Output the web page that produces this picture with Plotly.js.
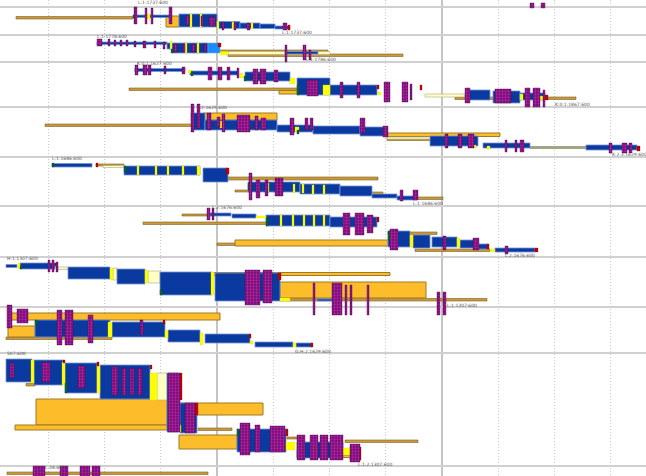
<!DOCTYPE html>
<html><head><meta charset="utf-8">
<script src="https://cdn.plot.ly/plotly-3.0.1.min.js"></script>
<style>html,body{margin:0;padding:0;background:#fff}#chart{width:646px;height:476px}</style>
</head><body><div id="chart"></div>
<script>
// Each record: [start, end, laneTop, laneBottom]
const laneBorders = [7, 35, 62, 107, 157, 206, 257, 307, 353, 466];

const tanSpans = [
  [16,133,16.5,19],
  [220,328,50,52.5],[228,403,54,56.5],
  [129,297,88,90.5],[455,576,97,99.5],
  [45,200,124,126.5],[387,460,138.5,140.5],
  [96,124,164,166],[227,378,177,180],[235,250,190,192],[360,383,192,194.5],[415,443,197,199.5],
  [182,210,214,216],[143,266,222,224.5],[217,235,243,245.5],[388,437,232,234.5],[415,490,249,251.5],
  [280,487,298.5,301],
  [6,112,337,339.5],
  [26,35,383.5,386],[198,232,428,430.5],[287,300,437,439],[345,418,440,442.5],
  [7,208,472,474.5]
];
const greySpans = [[530,586,146.5,148.5]];
const orangeSpans = [
  [166,179,16,27],
  [279,297,90.5,94],
  [203,277,113,120],[387,500,133,136.5],
  [235,388,240,246],
  [213,390,272.5,275.5],[280,426,282,298],
  [8,220,313,320],[8,35,326,337],
  [36,167,399,425],[15,167,425,430],[180,263,403,415],[179,237,435,449],[313,351,455,457.5]
];
const paleSpans = [
  [228,330,51.5,54.5],
  [425,465,94,97],
  [387,455,137,139],
  [103,124,165.5,167.5],
  [58,68,267,269.5],[113,117,268,280],[148,160,271,283],
  [157,167,373,400]
];
const blueSpans = [
  [133,170,15,17.5],[179,217,14,27],[217,240,21.5,28.5],[240,260,23,28.5],[260,275,24,28.5],[275,290,26,29],
  [97,167,42,44.5],[167,172,43,49],[172,208,43,53],[285,318,51.5,54],
  [135,183,68.5,71.5],[190,238,71,75],[245,290,72,81],[297,330,78,95],[330,377,85,95],[466,490,90,100],[493,520,91,103],[520,545,93,100],
  [192,205,113,130],[205,277,120,130],[277,313,125,132],[313,360,126,134],[360,385,127,136],[430,478,136,146],[483,530,143,148],[586,637,145,150],
  [52,92,163.5,167],[124,200,166,175],[203,228,168,182],[248,300,182,192],[300,340,184,194],[340,372,186,196],[372,397,194,198],[397,415,196,200],
  [210,231,213,216],[232,256,214,218],[266,330,215,226],[330,377,217,227],[388,410,231,247],[413,430,235,248],[432,457,237,247],[460,475,240,248],[475,488,244,249],[495,535,248,252],
  [6,17,264.5,267.5],[20,55,263,269],[68,110,267,279],[117,145,269,284],[160,212,272,295],[215,280,273,301],[317,337,299,301],
  [35,110,320,337],[112,165,322,337],[168,200,330,342],[205,250,334,343],[255,293,342,347],[296,312,343,347],
  [6,32,359,382],[34,63,360,385],[65,97,363,393],[100,150,365,399],[167,178,373,432],[180,197,403,433],[237,286,429,452],[297,343,442,458],[350,357,447,460]
];
const skySpans = [[208,220,43,53]];
const yellowSpans = [
  [147,150,14,19],[190,192,14,27],[200,202,14,27],[217,219,21,29],[232,234,22,29],[251,253,23,29],
  [170,172,41,49],[185,187,43,53],[197,199,43,53],[220,228,51.5,55],
  [188,191,70,73],[240,243,73,78],[290,295,78,84],[323,330,85,95],[378,381,92,95],[520,523,94,100],[540,543,96,100],
  [220,223,121,128],[295,299,127,132],[384,387,130,137],[473,476,145,148],[487,490,146,149],
  [137,139,166,175],[155,157,166,175],[167,169,166,175],[182,184,166,175],[197,200,166,175],[267,269,183,192],[280,282,183,192],[293,295,184,193],[302,304,184,193],[312,314,185,194],[323,325,185,194],
  [256,266,216,218],[280,282,215,226],[292,294,215,226],[303,305,215,226],[313,315,215,226],[323,325,215,226],[410,413,235,247],[457,460,238,247],[490,495,249,251.5],
  [18,20,263,269],[110,113,268,280],[145,148,270,283],[211,214,272,295],[280,290,298,301],
  [108,112,322,337],[165,168,330,338],[200,203,333,345],[250,253,341,344],[293,296,343,347],
  [31,34,360,383],[62,65,362,385],[97,100,365,393],[150,157,373,400],[286,295,442,450],[343,350,448,455],[178,181,425,432]
];
const redSpans = [
  [288,290,25,30],[218,221,43,47],
  [183,185,68,72],[377,379,85,89],[420,422,85,90],[545,548,95,100],
  [385,387,127,132],[637,640,146,151],
  [96,98,163,167],[226,229,168,174],[415,417,196,200],
  [377,379,217,222],[487,489,244,249],[535,538,248,252],
  [55,57,263,266],[278,281,273,280],
  [163,165,320,324],[249,251,334,338],[311,313,343,347],
  [63,65,360,363],[97,99,362,366],[150,152,365,369],[178,182,373,400],[195,198,403,415],[286,288,429,436],[358,361,447,460]
];
const greenSpans = [
  [133,135,15,18],[171,173,49,53],
  [135,137,68,72],[191,193,72,76],[244,246,76,81],[297,299,85,95],
  [191,193,113,122],[297,299,130,134],
  [52,54,163,167],[124,126,166,172],[248,250,183,190],
  [266,268,218,226],[388,390,231,240],
  [160,162,290,295],[20,22,266,269],
  [35,37,320,325],
  [65,67,383,393],[237,239,429,436],[297,299,451,458]
];
const markSpans = [
  [134,137,7,24],[145,147,8,24],[151,153,8,24],[169,172,7,24],[186,189,16,25],[201,203,16,26],[209,215,17,26],[222,224,22,30],[234,236,22,30],[247,250,23,30],[283,287,23,30],
  [97,102,39,46],[108,110,39,46],[114,116,40,46],[120,122,40,46],[126,128,40,46],[134,136,41,47],[143,146,41,48],[154,156,41,48],[163,165,42,49],[174,177,44,52],[183,185,44,52],[192,195,44,52],[204,206,44,52],[285,287,45,62],[303,306,45,60],[309,311,50,60],
  [135,138,65,75],[143,147,65,75],[148,151,65,75],[164,166,66,74],[182,185,67,74],[208,212,67,80],[218,222,67,80],[227,230,67,80],[237,239,68,78],[253,258,69,84],[260,266,69,84],[274,278,70,82],[307,318,80,96],[340,343,82,98],[357,360,82,98],[384,390,82,102],[402,408,82,102],[410,412,84,100],[465,470,88,103],[495,511,89,103],[525,530,88,107],[533,540,88,107],[543,545,90,107],
  [191,194,104,132],[197,200,104,128],[207,211,113,130],[217,220,117,127],[222,225,114,132],[237,250,115,132],[255,258,116,130],[261,266,118,130],[290,294,118,135],[305,308,118,130],[310,313,118,130],[360,365,118,133],[383,388,126,137],[445,448,134,148],[458,462,134,148],[468,474,134,148],[505,507,140,152],[515,517,140,152],[520,524,140,152],[609,612,143,153],[622,627,143,153],[629,632,143,153],
  [249,252,173,200],[256,260,180,198],[265,268,180,196],[275,279,178,196],[279,283,178,196],[400,403,190,201],[413,418,190,200],
  [207,210,208,220],[212,214,208,220],[343,350,213,235],[355,364,213,235],[367,373,215,233],[390,398,229,250],[443,446,236,250],[473,479,238,250],[505,508,246,254],
  [48,50,260,272],[52,54,260,272],[56,58,262,272],[245,260,270,305],[263,272,270,303],[313,315,283,315],[332,342,283,315],[345,347,285,315],[350,352,285,315],[367,369,285,315],[437,440,292,315],[443,446,292,315],
  [7,12,305,328],[17,28,309,323],[57,62,310,345],[65,73,310,345],[88,93,315,343],[140,143,320,335],
  [10,14,363,378],[42,50,362,382],[78,85,366,388],[112,118,367,395],[122,126,368,395],[130,134,368,395],[138,142,368,395],[168,180,373,432],[185,195,403,433],[240,250,423,455],[255,260,425,452],[270,285,426,452],[297,305,435,460],[310,318,435,460],[320,328,435,460],[330,343,435,460],[350,360,444,462],
  [33,45,466,476],[60,68,466,476],[80,90,466,476],[92,100,466,476],
  [530,534,3,8],[541,545,3,8]
];
const labelText = ["L:1:1737:600","L:1:1737:600","L:1:1778:600","L:1:1786:600","K:0:1:1627:600","K:0:1:1867:600",
  "L:2:1629:600","K:2:3:1629:600","L:1:1686:600","L:1:1686:600","L:2:1676:600","L:2:1676:600",
  "H:1:1307:600","L:1:1307:600","G:H:2:1629:600","507:600","L:1:2:1307:600","L:38:600"];
const labelX = [138,282,97,306,137,555,197,612,52,413,212,505,7,447,295,7,358,45];
const labelY = [3,33,37,60,64,105,108,155,159,204,208,256,259,306,352,354,465,468];

function spans(list, fill, edge, lw, extra) {
  const t = {
    type: 'bar', orientation: 'h',
    base: list.map(r => r[0]),
    x: list.map(r => r[1] - r[0]),
    y: list.map(r => (r[2] + r[3]) / 2),
    width: list.map(r => r[3] - r[2]),
    marker: { color: fill, line: { color: edge, width: lw } },
    hoverinfo: 'skip', showlegend: false
  };
  if (extra) Object.assign(t.marker, extra);
  return t;
}

const data = [
  spans(tanSpans, '#c99a3c', '#7d5e22', 0.6),
  spans(greySpans, '#a4a27e', '#77765a', 0.5),
  spans(orangeSpans, '#fdbd2a', '#9c7a26', 1),
  spans(paleSpans, '#ffffc4', '#a9a98a', 0.6),
  spans(blueSpans, '#0a3a9f', '#7794d6', 0.8),
  spans(skySpans, '#1a8cff', '#5aa8ff', 0.5),
  spans(yellowSpans, '#ffff00', '#d8d800', 0.3),
  spans(redSpans, '#c40000', '#900000', 0.3),
  spans(greenSpans, '#0c6a22', '#064816', 0.3),
  spans(markSpans, '#6e0f6e', '#4a0a4a', 0.4, {pattern:{shape:'.', fillmode:'overlay', fgcolor:'#ff33dd', size:3, solidity:0.45}}),
  { type: 'scatter', mode: 'text', x: labelX, y: labelY, text: labelText,
    textposition: 'middle right', textfont: { size: 4.5, color: '#555', family: 'DejaVu Sans' },
    hoverinfo: 'skip', showlegend: false }
];

const layout = {
  width: 646, height: 476,
  margin: { l: 0, r: 0, t: 0, b: 0, pad: 0 },
  paper_bgcolor: '#ffffff', plot_bgcolor: '#ffffff',
  barmode: 'overlay', showlegend: false,
  xaxis: {
    range: [0, 646], showticklabels: false, ticks: '', zeroline: false, showline: false,
    tick0: 217, dtick: 225, showgrid: true, gridcolor: '#c4c4c4', gridwidth: 1.2,
    minor: { tick0: 217, dtick: 56.25, showgrid: true, gridcolor: '#c8c8c8', griddash: '1px,2px', gridwidth: 1 }
  },
  yaxis: {
    range: [476, 0], tickvals: laneBorders, showticklabels: false, ticks: '', zeroline: false, showline: false,
    showgrid: true, gridcolor: '#d0d0d0', gridwidth: 2
  }
};

Plotly.newPlot('chart', data, layout, { staticPlot: true, displayModeBar: false });
</script>
</body></html>
